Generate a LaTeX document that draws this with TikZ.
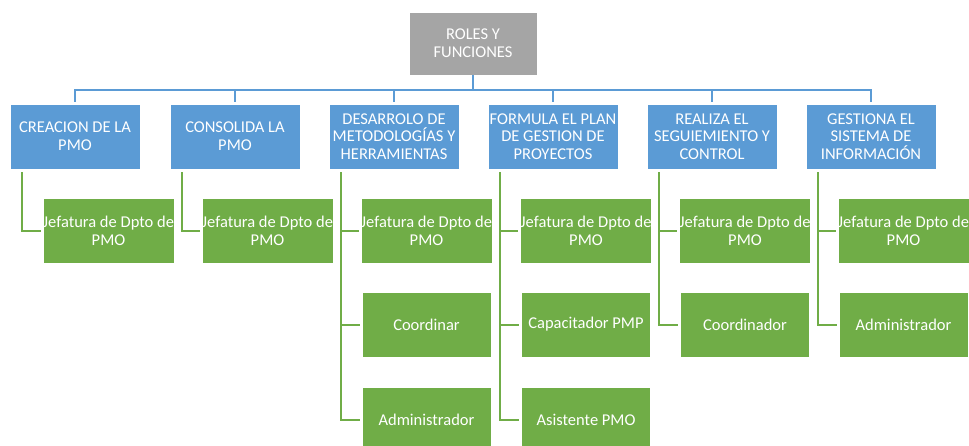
\documentclass[tikz,border=0pt]{standalone}
\usepackage{fontspec}
\setmainfont{Carlito}
\definecolor{mblue}{HTML}{5B9BD5}
\definecolor{mgreen}{HTML}{70AD47}
\definecolor{mgrey}{HTML}{A5A5A5}
\begin{document}
\begin{tikzpicture}[x=1pt,y=-1pt,
  box/.style={draw=white,line width=0.8pt,text=white,align=center,inner sep=0pt,
    font=\fontsize{16.5}{17.7}\selectfont},
  rootbox/.style={box,fill=mgrey,minimum width=128pt,minimum height=63pt},
  funcbox/.style={box,fill=mblue,minimum width=130pt,minimum height=65pt},
  rolebox/.style={box,fill=mgreen,minimum width=129pt,minimum height=65pt},
  bline/.style={draw=mblue,line width=2pt},
  gline/.style={draw=mgreen,line width=2pt}]
\useasboundingbox (0,0) rectangle (969,445);
\node[rootbox] (root) at (473,43.5) {ROLES Y\\FUNCIONES};
\node[funcbox] (b1) at (75,136.5) {CREACION DE LA\\PMO};
\node[funcbox] (b2) at (235,136.5) {CONSOLIDA LA\\PMO};
\node[funcbox] (b3) at (394,136.5) {DESARROLO DE\\METODOLOGÍAS Y\\HERRAMIENTAS};
\node[funcbox] (b4) at (553,136.5) {FORMULA EL PLAN\\DE GESTION DE\\PROYECTOS};
\node[funcbox] (b5) at (712,136.5) {REALIZA EL\\SEGUIEMIENTO Y\\CONTROL};
\node[funcbox] (b6) at (871,136.5) {GESTIONA EL\\SISTEMA DE\\INFORMACIÓN};
% roles
\node[rolebox] (g11) at (108.5,230.5) {Jefatura de Dpto de\\PMO};
\node[rolebox] (g21) at (267.5,230.5) {Jefatura de Dpto de\\PMO};
\node[rolebox] (g31) at (426.5,230.5) {Jefatura de Dpto de\\PMO};
\node[rolebox] (g32) at (426.5,324.5) {Coordinar};
\node[rolebox] (g33) at (426.5,419.5) {Administrador};
\node[rolebox] (g41) at (586,230.5) {Jefatura de Dpto de\\PMO};
\node[rolebox] (g42) at (586,324.5) {Capacitador PMP};
\node[rolebox] (g43) at (586,419.5) {Asistente PMO};
\node[rolebox] (g51) at (745,230.5) {Jefatura de Dpto de\\PMO};
\node[rolebox] (g52) at (745,324.5) {Coordinador};
\node[rolebox] (g61) at (903.5,230.5) {Jefatura de Dpto de\\PMO};
\node[rolebox] (g62) at (903.5,324.5) {Administrador};
% blue connectors
\coordinate (bus) at (473,90);
\draw[bline] (root.south) -- (bus);
\foreach \b in {b1,b2,b3,b4,b5,b6}{
  \draw[bline,shorten >=2pt] (bus) -| (\b.north);
}
% green connectors
\foreach \b/\g in {b1/g11,b2/g21,b3/g31,b3/g32,b3/g33,b4/g41,b4/g42,b4/g43,b5/g51,b5/g52,b6/g61,b6/g62}{
  \draw[gline,shorten <=3pt,shorten >=2pt] ([xshift=12pt]\b.south west) |- (\g.west);
}
\end{tikzpicture}
\end{document}
